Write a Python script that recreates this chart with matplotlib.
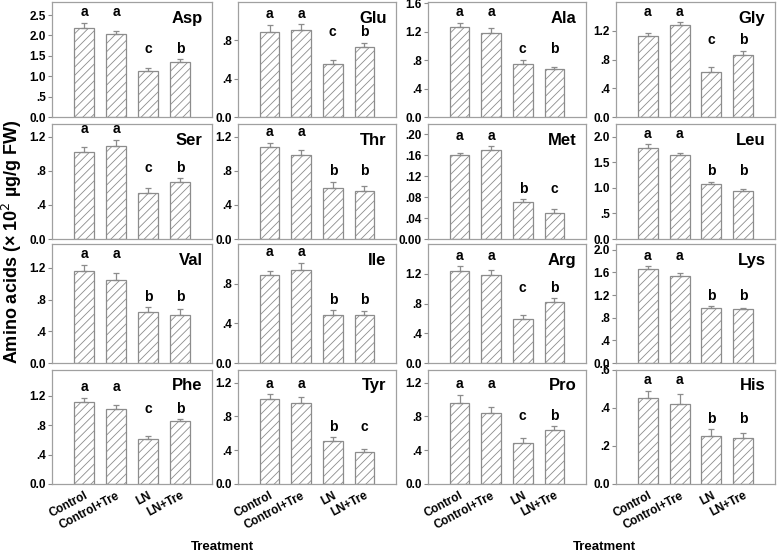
import matplotlib
matplotlib.use("Agg")
import matplotlib.pyplot as plt

plt.rcParams["font.family"] = ["Liberation Sans", "DejaVu Sans"]
plt.rcParams["hatch.linewidth"] = 0.6
plt.rcParams["hatch.color"] = "#8a8a8a"

# ---- data ----
treatments = ["Control", "Control+Tre", "LN", "LN+Tre"]
amino = ["Asp", "Glu", "Ala", "Gly",
         "Ser", "Thr", "Met", "Leu",
         "Val", "Ile", "Arg", "Lys",
         "Phe", "Tyr", "Pro", "His"]

means = [
    [2.19, 2.04, 1.12, 1.36],   # Asp
    [0.89, 0.91, 0.55, 0.735],  # Glu
    [1.27, 1.19, 0.74, 0.67],   # Ala
    [1.125, 1.275, 0.63, 0.86], # Gly
    [1.02, 1.09, 0.54, 0.67],   # Ser
    [1.075, 0.99, 0.595, 0.565],# Thr
    [0.160, 0.170, 0.070, 0.049],  # Met
    [1.79, 1.64, 1.08, 0.93],   # Leu
    [1.155, 1.045, 0.645, 0.61],# Val
    [0.885, 0.94, 0.48, 0.48],  # Ile
    [1.24, 1.18, 0.59, 0.825],  # Arg
    [1.66, 1.53, 0.965, 0.945], # Lys
    [1.115, 1.02, 0.61, 0.855], # Phe
    [1.005, 0.955, 0.515, 0.38],# Tyr
    [0.965, 0.84, 0.49, 0.635], # Pro
    [0.452, 0.422, 0.254, 0.242],  # His
]

errors = [
    [0.12, 0.07, 0.08, 0.06],
    [0.075, 0.06, 0.045, 0.04],
    [0.06, 0.07, 0.065, 0.04],
    [0.05, 0.04, 0.06, 0.06],
    [0.065, 0.075, 0.06, 0.045],
    [0.055, 0.05, 0.08, 0.06],
    [0.004, 0.007, 0.006, 0.009],
    [0.065, 0.05, 0.04, 0.05],
    [0.085, 0.085, 0.06, 0.075],
    [0.04, 0.07, 0.05, 0.04],
    [0.06, 0.07, 0.055, 0.045],
    [0.05, 0.05, 0.04, 0.025],
    [0.055, 0.055, 0.04, 0.025],
    [0.055, 0.07, 0.04, 0.035],
    [0.09, 0.075, 0.06, 0.05],
    [0.04, 0.05, 0.034, 0.025],
]

letters = [
    ["a", "a", "c", "b"], ["a", "a", "c", "b"], ["a", "a", "c", "b"], ["a", "a", "c", "b"],
    ["a", "a", "c", "b"], ["a", "a", "b", "b"], ["a", "a", "b", "c"], ["a", "a", "b", "b"],
    ["a", "a", "b", "b"], ["a", "a", "b", "b"], ["a", "a", "c", "b"], ["a", "a", "b", "b"],
    ["a", "a", "c", "b"], ["a", "a", "b", "c"], ["a", "a", "c", "b"], ["a", "a", "b", "b"],
]

ytop = [2.82, 1.2, 1.62, 1.6,
        1.35, 1.35, 0.22, 2.25,
        1.5, 1.2, 1.6, 2.1,
        1.55, 1.35, 1.35, 0.6]

yticks = [
    [0, 0.5, 1.0, 1.5, 2.0, 2.5], [0, 0.4, 0.8], [0, 0.4, 0.8, 1.2, 1.6], [0, 0.4, 0.8, 1.2],
    [0, 0.4, 0.8, 1.2], [0, 0.4, 0.8, 1.2], [0, 0.04, 0.08, 0.12, 0.16, 0.20], [0, 0.5, 1.0, 1.5, 2.0],
    [0, 0.4, 0.8, 1.2], [0, 0.4, 0.8], [0, 0.4, 0.8, 1.2], [0, 0.4, 0.8, 1.2, 1.6, 2.0],
    [0, 0.4, 0.8, 1.2], [0, 0.4, 0.8, 1.2], [0, 0.4, 0.8, 1.2], [0, 0.2, 0.4, 0.6],
]
ydecimals = [1, 1, 1, 1, 1, 1, 2, 1, 1, 1, 1, 1, 1, 1, 1, 1]


def fmt(v, d):
    s = f"{v:.{d}f}"
    if v == 0:
        return s
    return s[1:] if s.startswith("0") else s


W, H = 778, 554
cols = [(52, 212), (238, 396), (428, 586), (616, 775)]
rows = [(2, 117), (124, 239), (244, 363), (370, 484)]
grey = "#8c8c8c"

fig = plt.figure(figsize=(W / 100, H / 100), dpi=100)

for i, name in enumerate(amino):
    r, c = divmod(i, 4)
    x0, x1 = cols[c]
    t, b = rows[r]
    ax = fig.add_axes([x0 / W, 1 - b / H, (x1 - x0) / W, (b - t) / H])
    xs = range(len(treatments))
    ax.bar(xs, means[i], width=0.625, color="white", edgecolor=grey,
           hatch="////", linewidth=0.9, zorder=2)
    ax.errorbar(xs, means[i], yerr=[[0] * 4, errors[i]], fmt="none",
                ecolor=grey, elinewidth=0.9, capsize=2.5, capthick=0.9, zorder=3)
    ax.set_xlim(-1, 4)
    ax.set_ylim(0, ytop[i])

    # significance letters, one height for each pair of bars
    for pair in ([0, 1], [2, 3]):
        top = max(means[i][k] + errors[i][k] for k in pair)
        for k in pair:
            ax.annotate(letters[i][k], (k, top), xytext=(0, 2.5),
                        textcoords="offset points", ha="center", va="bottom",
                        fontsize=10, fontweight="bold")

    ax.text(0.94, 0.86, name, transform=ax.transAxes, ha="right", va="center",
            fontsize=12, fontweight="bold")

    ax.set_yticks(yticks[i])
    ax.set_yticklabels([fmt(v, ydecimals[i]) for v in yticks[i]],
                       fontsize=8.5, fontweight="bold")
    ax.tick_params(axis="y", length=3, width=0.8, color=grey, pad=1.5)
    if r == 3:
        ax.set_xticks(list(xs))
        ax.set_xticklabels(treatments, rotation=28, ha="right",
                           rotation_mode="anchor", fontsize=8.5, fontweight="bold")
        ax.tick_params(axis="x", length=0, pad=4)
    else:
        ax.set_xticks([])
    for sp in ax.spines.values():
        sp.set_color("#a0a0a0")
        sp.set_linewidth(0.9)

fig.text(12 / W, 1 - 242 / H, "Amino acids (\u00d7 10$^2$ \u00b5g/g FW)",
         rotation=90, ha="center", va="center", fontsize=13, fontweight="bold")
fig.text(222 / W, 1 - 547 / H, "Treatment", ha="center", va="center",
         fontsize=9.5, fontweight="bold")
fig.text(604 / W, 1 - 547 / H, "Treatment", ha="center", va="center",
         fontsize=9.5, fontweight="bold")

fig.savefig("out.png", dpi=100)
